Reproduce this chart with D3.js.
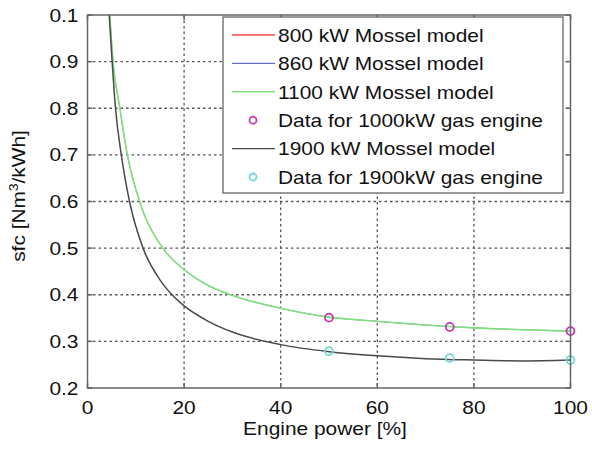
<!DOCTYPE html>
<html>
<head>
<meta charset="utf-8">
<script src="https://cdn.jsdelivr.net/npm/d3@7"></script>
<style>
  body { margin: 0; background: #fff; }
  text { font-family: "Liberation Sans", Arial, sans-serif; fill: #111; }
</style>
</head>
<body>
<script>
// engine load [%] and sfc [Nm3/kWh]
let powerGreen = [4.6, 5.3, 6.7, 8.25, 10.8, 15.6, 20, 25, 30.5, 40, 50, 60, 70, 80, 90, 100];
let sfcGreen = [1.0, 0.9, 0.8, 0.7, 0.6, 0.5, 0.454, 0.42, 0.397, 0.371, 0.352, 0.343, 0.335, 0.329, 0.325, 0.322];
let powerBlack = [4.5, 5.1, 5.8, 7.0, 8.7, 11.5, 15, 17.5, 20, 25, 30, 40, 50, 60, 70, 80, 90, 100];
let sfcBlack = [1.0, 0.9, 0.8, 0.7, 0.6, 0.5, 0.432, 0.4, 0.376, 0.343, 0.32, 0.293, 0.278, 0.269, 0.263, 0.26, 0.258, 0.26];
// 800 and 860 kW lines lie under the 1100 kW line
let sfc800 = [1.0, 0.9, 0.8, 0.7, 0.6, 0.5, 0.454, 0.42, 0.397, 0.371, 0.352, 0.343, 0.335, 0.329, 0.325, 0.322];
let sfc860 = [1.0, 0.9, 0.8, 0.7, 0.6, 0.5, 0.454, 0.42, 0.397, 0.371, 0.352, 0.343, 0.335, 0.329, 0.325, 0.322];
let dataPower = [50, 75, 100];
let data1000 = [0.351, 0.331, 0.322];
let data1900 = [0.279, 0.264, 0.26];

let xTicks = [0, 20, 40, 60, 80, 100];
let yTicks = [0.2, 0.3, 0.4, 0.5, 0.6, 0.7, 0.8, 0.9, 1.0];
let yTickLabels = ['0.2', '0.3', '0.4', '0.5', '0.6', '0.7', '0.8', '0.9', '0.1'];

let legendNames = ['800 kW Mossel model', '860 kW Mossel model', '1100 kW Mossel model',
  'Data for 1000kW gas engine', '1900 kW Mossel model', 'Data for 1900kW gas engine'];
let legendKinds = ['line', 'line', 'line', 'dot', 'line', 'dot'];
let legendColors = ['#f04848', '#6470c8', '#80e080', '#c03ab4', '#4a4a4a', '#74d8d4'];

let W = 592, H = 450;
let pL = 87.5, pR = 570.5, pT = 15, pB = 388;
let stretch = 1.13; // reference glyphs are a bit wider than Liberation Sans

let svg = d3.select('body').append('svg').attr('width', W).attr('height', H);

let x = d3.scaleLinear().domain([0, 100]).range([pL, pR]);
let y = d3.scaleLinear().domain([0.2, 1.0]).range([pB, pT]);

function widen(sel) {
  sel.each(function () {
    let w = this.getComputedTextLength();
    d3.select(this).attr('textLength', w * stretch).attr('lengthAdjust', 'spacingAndGlyphs');
  });
}

// grid
let grid = svg.append('g');
grid.selectAll('.gx').data(xTicks.slice(1, -1)).enter().append('line')
  .attr('x1', d => x(d)).attr('x2', d => x(d))
  .attr('y1', pT).attr('y2', pB)
  .style('stroke', '#555').style('stroke-width', 1.3).style('stroke-dasharray', '2.5,3');
grid.selectAll('.gy').data(yTicks.slice(1, -1)).enter().append('line')
  .attr('x1', pL).attr('x2', pR)
  .attr('y1', d => y(d)).attr('y2', d => y(d))
  .style('stroke', '#555').style('stroke-width', 1.3).style('stroke-dasharray', '2.5,3');

// curves
svg.append('clipPath').attr('id', 'clip').append('rect')
  .attr('x', pL).attr('y', pT).attr('width', pR - pL).attr('height', pB - pT);

let line = d3.line().x(d => x(d[0])).y(d => y(d[1])).curve(d3.curveMonotoneX);
let curves = [
  { p: powerGreen, v: sfc800, c: legendColors[0], w: 0.5 },
  { p: powerGreen, v: sfc860, c: legendColors[1], w: 0.5 },
  { p: powerGreen, v: sfcGreen, c: legendColors[2], w: 1.6 },
  { p: powerBlack, v: sfcBlack, c: legendColors[4], w: 1.5 }
];
curves.forEach(function (cv) {
  svg.append('path')
    .attr('d', line(d3.zip(cv.p, cv.v)))
    .attr('clip-path', 'url(#clip)')
    .style('fill', 'none').style('stroke', cv.c).style('stroke-width', cv.w);
});

// data points
svg.selectAll('.m1').data(d3.zip(dataPower, data1000)).enter().append('circle')
  .attr('cx', d => x(d[0])).attr('cy', d => y(d[1])).attr('r', 4)
  .style('fill', 'none').style('stroke', legendColors[3]).style('stroke-width', 1.8);
svg.selectAll('.m2').data(d3.zip(dataPower, data1900)).enter().append('circle')
  .attr('cx', d => x(d[0])).attr('cy', d => y(d[1])).attr('r', 4)
  .style('fill', 'none').style('stroke', legendColors[5]).style('stroke-width', 1.8);

// frame with inward ticks
let ax = svg.append('g').style('stroke', '#666').style('stroke-width', 1.5);
ax.append('rect').attr('x', pL).attr('y', pT).attr('width', pR - pL).attr('height', pB - pT)
  .style('fill', 'none');
xTicks.forEach(function (t) {
  ax.append('line').attr('x1', x(t)).attr('x2', x(t)).attr('y1', pB).attr('y2', pB - 5);
  ax.append('line').attr('x1', x(t)).attr('x2', x(t)).attr('y1', pT).attr('y2', pT + 5);
});
yTicks.forEach(function (t) {
  ax.append('line').attr('x1', pL).attr('x2', pL + 5).attr('y1', y(t)).attr('y2', y(t));
  ax.append('line').attr('x1', pR).attr('x2', pR - 5).attr('y1', y(t)).attr('y2', y(t));
});

// tick labels
svg.selectAll('.xt').data(xTicks).enter().append('text')
  .attr('x', d => x(d)).attr('y', pB + 26)
  .attr('text-anchor', 'middle').style('font-size', '18.5px')
  .text(d => d).call(widen);
svg.selectAll('.yt').data(yTicks).enter().append('text')
  .attr('x', pL - 9).attr('y', d => y(d) + 6.5)
  .attr('text-anchor', 'end').style('font-size', '18.5px')
  .text((d, i) => yTickLabels[i]).call(widen);

// axis titles
svg.append('text').attr('x', 325).attr('y', 435)
  .attr('text-anchor', 'middle').style('font-size', '18.5px')
  .text('Engine power [%]').call(widen);
let yt = svg.append('text')
  .attr('transform', 'translate(25,196) rotate(-90) scale(' + stretch + ',1)')
  .attr('text-anchor', 'middle').style('font-size', '18.5px');
yt.append('tspan').text('sfc [Nm');
yt.append('tspan').attr('dy', -7).style('font-size', '12px').text('3');
yt.append('tspan').attr('dy', 7).text('/kWh]');

// legend
let lg = svg.append('g');
lg.append('rect').attr('x', 223).attr('y', 17).attr('width', 340).attr('height', 176)
  .style('fill', '#fff').style('stroke', '#666').style('stroke-width', 1.3);
legendNames.forEach(function (name, i) {
  let cy = 35 + i * 28.4;
  if (legendKinds[i] === 'line') {
    lg.append('line').attr('x1', 232).attr('x2', 275).attr('y1', cy).attr('y2', cy)
      .style('stroke', legendColors[i]).style('stroke-width', 1.4);
  } else {
    lg.append('circle').attr('cx', 253).attr('cy', cy).attr('r', 3.5)
      .style('fill', 'none').style('stroke', legendColors[i]).style('stroke-width', 1.8);
  }
  lg.append('text').attr('x', 278).attr('y', cy + 6.8)
    .style('font-size', '18.5px').text(name).call(widen);
});
</script>
</body>
</html>
